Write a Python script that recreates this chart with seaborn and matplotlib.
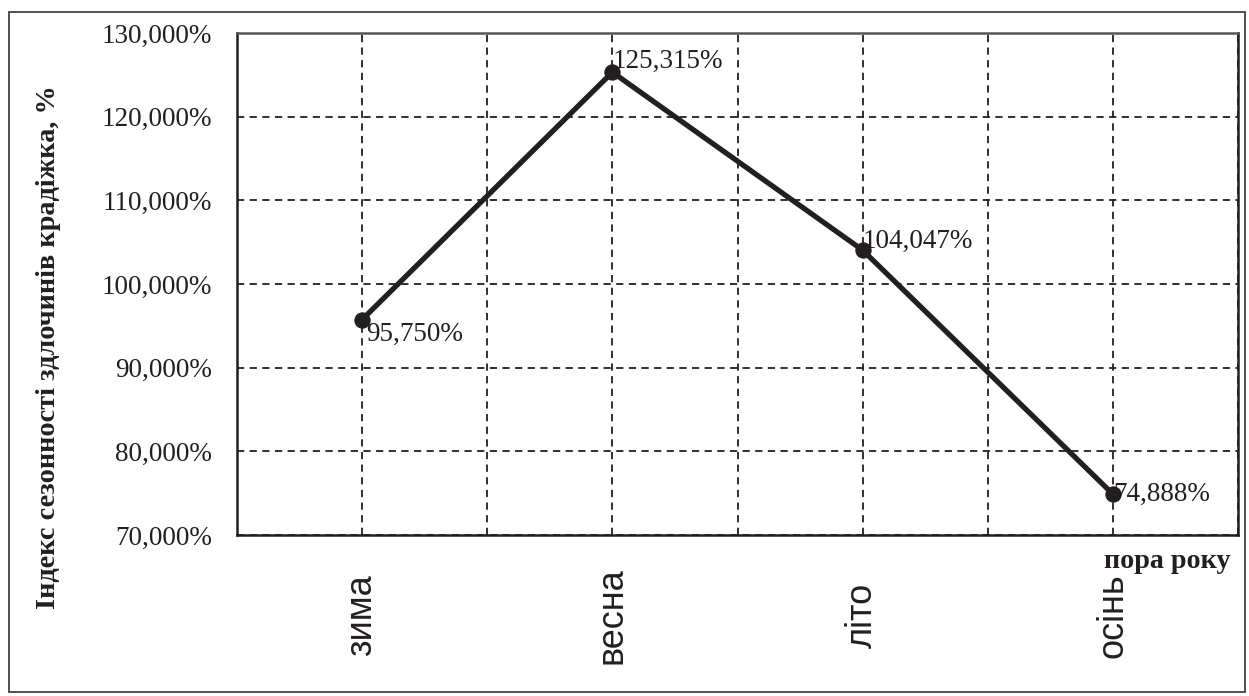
import matplotlib
matplotlib.use("Agg")
import matplotlib.pyplot as plt
import seaborn as sns
import pandas as pd
from matplotlib.patches import Rectangle
from matplotlib.ticker import FuncFormatter, MultipleLocator

seasons = ["зима", "весна", "літо", "осінь"]
index_values = [95.750, 125.315, 104.047, 74.888]
value_labels = ["95,750%", "125,315%", "104,047%", "74,888%"]
y_ticks = [70, 80, 90, 100, 110, 120, 130]

sns.set_theme(style="white")
plt.rcParams["font.family"] = ["Liberation Serif", "DejaVu Serif"]

INK = "#231f20"
fig = plt.figure(figsize=(12.49, 6.96), dpi=100)
ax = fig.add_axes([237/1249, 1-535/696, (1238-237)/1249, (535-33)/696])

df = pd.DataFrame({"season": seasons, "value": index_values})
df["pos"] = range(len(seasons))
sns.lineplot(data=df, x="pos", y="value", sort=False, ax=ax, color=INK,
             linewidth=3.8, marker="o", markersize=11, markeredgecolor=INK,
             markerfacecolor=INK)

ax.set_xlim(-0.5, len(seasons) - 0.5)
ax.set_ylim(70, 130)
ax.set_yticks(y_ticks)
ax.yaxis.set_major_formatter(FuncFormatter(lambda v, p: f"{v:.3f}".replace(".", ",") + "%"))
ax.set_xticks(range(len(seasons)))
ax.set_xticklabels(seasons, rotation=90, va="center", fontsize=26,
                   family=["Liberation Sans", "DejaVu Sans"], color=INK)
ax.xaxis.set_minor_locator(MultipleLocator(0.5))
ax.tick_params(axis="x", which="both", length=0, pad=58)
ax.tick_params(axis="y", length=0, pad=18, labelsize=19.5, labelcolor=INK)
ax.grid(True, which="both", axis="x", color=INK, linestyle=(0, (4, 3)), linewidth=1.3)
ax.grid(True, which="major", axis="y", color=INK, linestyle=(0, (4, 3)), linewidth=1.3)
ax.set_xlabel("")
ax.set_ylabel("")
for side in ["left", "bottom", "right"]:
    ax.spines[side].set_color(INK)
    ax.spines[side].set_linewidth(1.8)
ax.spines["top"].set_color("#555555")
ax.spines["top"].set_linewidth(1.8)

offsets = [(3, -2, "top"), (0, -1, "bottom"), (0, -3, "bottom"), (0, 0, "center")]
for i, (lab, (dx, dy, va)) in enumerate(zip(value_labels, offsets)):
    ax.annotate(lab, (i, index_values[i]), xytext=(dx, dy), textcoords="offset points",
                ha="left", va=va, fontsize=19.5, color=INK)

fig.text(49/1249, 1-347/696, "Індекс сезонності здлочинів крадіжка, %", rotation=90,
         ha="center", va="center", fontsize=20.3, fontweight="bold", color=INK)
fig.text(1167/1249, 1-562/696, "пора року", ha="center", va="center",
         fontsize=20.2, fontweight="bold", color=INK)

fig.add_artist(Rectangle((9/1249, 1-692/696), 1236/1249, 680/696, transform=fig.transFigure,
                         fill=False, edgecolor="#333333", linewidth=1.2))

fig.savefig("out.png", dpi=100)
